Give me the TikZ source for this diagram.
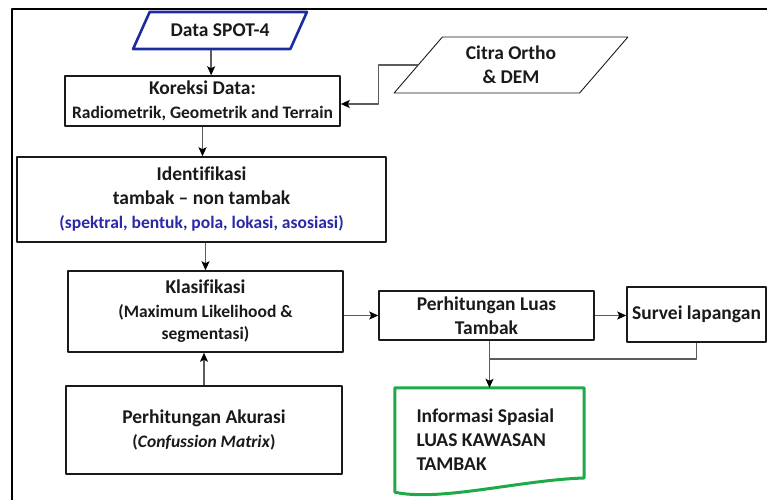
\documentclass[tikz,border=0pt]{standalone}
\usepackage{fontspec}
\setmainfont[Ligatures=NoCommon]{Carlito}
\usetikzlibrary{arrows.meta,shapes.geometric}
\newcommand{\Unit}{1pt}
\newcommand{\Frame}{2.6pt}
\newcommand{\Edge}{1.5pt}
\newcommand{\TxtBig}{\fontsize{19.5}{24}\selectfont}
\newcommand{\TxtSmall}{\fontsize{17.5}{21}\selectfont}
\definecolor{ink}{HTML}{1A1A1A}
\definecolor{wire}{HTML}{5C5C5C}
\definecolor{spotblue}{HTML}{1C2C9C}
\definecolor{note}{HTML}{2A2AA6}
\definecolor{leaf}{HTML}{1FAA48}

\begin{document}
\begin{tikzpicture}[x=\Unit,y=-\Unit, line join=round,
  box/.style={draw=ink,line width=\Edge,fill=white,inner sep=0pt,align=center,
    text=ink,font=\TxtBig\bfseries},
  slab/.style={trapezium,trapezium stretches=true,inner sep=0pt,align=center,
    text=ink,font=\TxtBig\bfseries},
  link/.style={draw=wire,line width=1.3pt},
  arr/.style={link,-{Stealth[length=9pt,width=8pt,inset=2pt,color=black]}}]

  \useasboundingbox (0,0) rectangle (767,500);

  % ---- frame: only its top and left edges are in the crop -----------------
  \draw[black,line width=\Frame] (12,500) -- (12,9) -- (767,9);

  % ---- inputs -------------------------------------------------------------
  \node[slab,draw=spotblue,line width=2.6pt,trapezium left angle=48,
    trapezium right angle=132,minimum width=174,minimum height=37]
    (spot) at (220,30.5) {Data SPOT-4};
  \node[slab,draw=ink,line width=0.9pt,trapezium left angle=50,
    trapezium right angle=130,minimum width=234,minimum height=56]
    (citra) at (511,65) {Citra Ortho\\\& DEM};

  % ---- main column --------------------------------------------------------
  \node[box,minimum width=275,minimum height=50] (koreksi) at (202.5,101)
    {Koreksi Data:\\{\TxtSmall Radiometrik, Geometrik and Terrain}};
  \node[box,minimum width=369,minimum height=85] (ident) at (201.5,199.5)
    {Identifikasi\\tambak -- non tambak\\
     {\TxtSmall\color{note}(spektral, bentuk, pola, lokasi, asosiasi)}};
  \node[box,minimum width=275,minimum height=81] (klas) at (205.5,311.5)
    {Klasifikasi\\{\TxtSmall(Maximum Likelihood \&}\\[-2pt]{\TxtSmall segmentasi)}};
  \node[box,minimum width=276,minimum height=88] (akurasi) at (204,430)
    {Perhitungan Akurasi\\{\TxtSmall(\textit{Confussion Matrix})}};

  % ---- right branch -------------------------------------------------------
  \node[box,minimum width=215,minimum height=49] (luas) at (486.5,315.5)
    {Perhitungan Luas\\Tambak};
  \node[box,minimum width=139,minimum height=55] (survei) at (696.5,314.5)
    {Survei lapangan};
  \node[inner sep=0pt,minimum width=189,minimum height=104,text width=146,
    align=flush left,text=ink,font=\TxtBig\bfseries] (info) at (489.5,440)
    {Informasi Spasial\\LUAS KAWASAN\\TAMBAK};
  % document outline with a wavy foot
  \draw[leaf,line width=3pt] (info.north west) -- (info.north east) -- (584,478)
    .. controls (520,480) and (440,502) .. (info.south west) -- cycle;
  \coordinate (join) at (info.north |- 0,359);

  % ---- connectors ---------------------------------------------------------
  \draw[arr] (spot.bottom side) -- (spot.bottom side |- koreksi.north);
  \draw[arr] (citra.left side) -- ++(-39,0) |- ([yshift=-3pt]koreksi.east);
  \draw[arr] (koreksi.south) -- (koreksi.south |- ident.north);
  \draw[arr] (klas.north |- ident.south) -- (klas.north);
  \draw[arr] (akurasi.north) -- (akurasi.north |- klas.south);
  \draw[arr] (klas.east |- luas.west) -- (luas.west);
  \draw[arr] (luas.east) -- (survei.west |- luas.east);
  \draw[link] (survei.south) |- (join);
  \draw[arr] (info.north |- luas.south) -- (info.north);

\end{tikzpicture}
\end{document}
